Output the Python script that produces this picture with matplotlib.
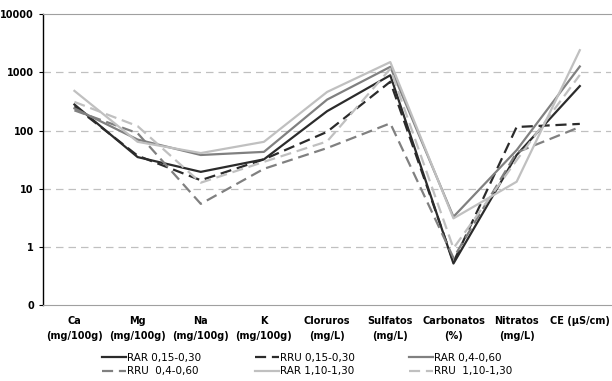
import matplotlib.pyplot as plt
from matplotlib.ticker import FixedLocator, FixedFormatter

categorias = ["Ca\n(mg/100g)", "Mg\n(mg/100g)", "Na\n(mg/100g)", "K\n(mg/100g)",
              "Cloruros\n(mg/L)", "Sulfatos\n(mg/L)", "Carbonatos\n(%)",
              "Nitratos\n(mg/L)", "CE (µS/cm)"]

rar_015 = [280, 35, 19.5, 32, 215, 890, 0.52, 38, 580]
rru_015 = [260, 37, 14, 32, 95, 690, 0.55, 115, 130]
rar_04 = [240, 70, 38, 43, 340, 1240, 3.3, 46, 1260]
rru_04 = [222, 90, 5.5, 22, 50, 133, 0.65, 42, 115]
rar_110 = [480, 64, 41, 64, 460, 1500, 3.1, 13.2, 2400]
rru_110 = [310, 119, 12.7, 29, 65, 1150, 0.95, 31, 900]

y_ticks = [0.1, 1, 10, 100, 1000, 10000]
y_labels = ["0", "1", "10", "100", "1000", "10000"]

fig = plt.figure(figsize=(6.12, 3.81), dpi=100)
ax = fig.add_axes([0.070, 0.199, 0.929, 0.764])

x = range(len(categorias))
dash = (0, (5, 2.6))
lw = 1.6
series = [
    ("RAR 0,15-0,30", rar_015, "#2b2b2b", "-"),
    ("RRU 0,15-0,30", rru_015, "#2b2b2b", dash),
    ("RAR 0,4-0,60", rar_04, "#808080", "-"),
    ("RRU  0,4-0,60", rru_04, "#808080", dash),
    ("RAR 1,10-1,30", rar_110, "#c0c0c0", "-"),
    ("RRU  1,10-1,30", rru_110, "#c0c0c0", dash),
]
lines = {}
for nombre, vals, col, ls in series:
    l, = ax.plot(x, vals, color=col, linestyle=ls, linewidth=lw, label=nombre)
    lines[nombre] = l

ax.set_yscale("log")
ax.set_ylim(0.1, 10000)
ax.set_xlim(-0.5, len(categorias) - 0.5)
ax.yaxis.set_major_locator(FixedLocator(y_ticks))
ax.yaxis.set_major_formatter(FixedFormatter(y_labels))
ax.yaxis.set_minor_locator(FixedLocator([]))
for t in [1, 10, 100, 1000]:
    ax.axhline(t, color="#c0c0c0", linestyle=(0, (6, 4)), linewidth=0.9, zorder=0)

ax.set_xticks(list(x))
ax.set_xticklabels(categorias, fontsize=7, fontweight="bold", linespacing=1.6)
ax.tick_params(axis="x", length=0, pad=8)
ax.tick_params(axis="y", labelsize=7, length=3, width=0.8)
for lab in ax.get_yticklabels():
    lab.set_fontweight("bold")

ax.spines["right"].set_visible(False)
ax.spines["top"].set_color("#a0a0a0")
ax.spines["bottom"].set_color("#a0a0a0")
ax.spines["left"].set_color("black")
ax.spines["left"].set_linewidth(1.0)

# legend filled column-wise, so reorder to read row-wise like the original
orden = ["RAR 0,15-0,30", "RRU  0,4-0,60", "RRU 0,15-0,30",
         "RAR 1,10-1,30", "RAR 0,4-0,60", "RRU  1,10-1,30"]
fig.legend([lines[n] for n in orden], orden, loc="lower center",
           bbox_to_anchor=(0.502, -0.012), ncol=3, frameon=False, fontsize=7.5,
           handlelength=2.3, handletextpad=0.1, columnspacing=5.2,
           labelspacing=0.3)

fig.savefig("out.png", dpi=100)
